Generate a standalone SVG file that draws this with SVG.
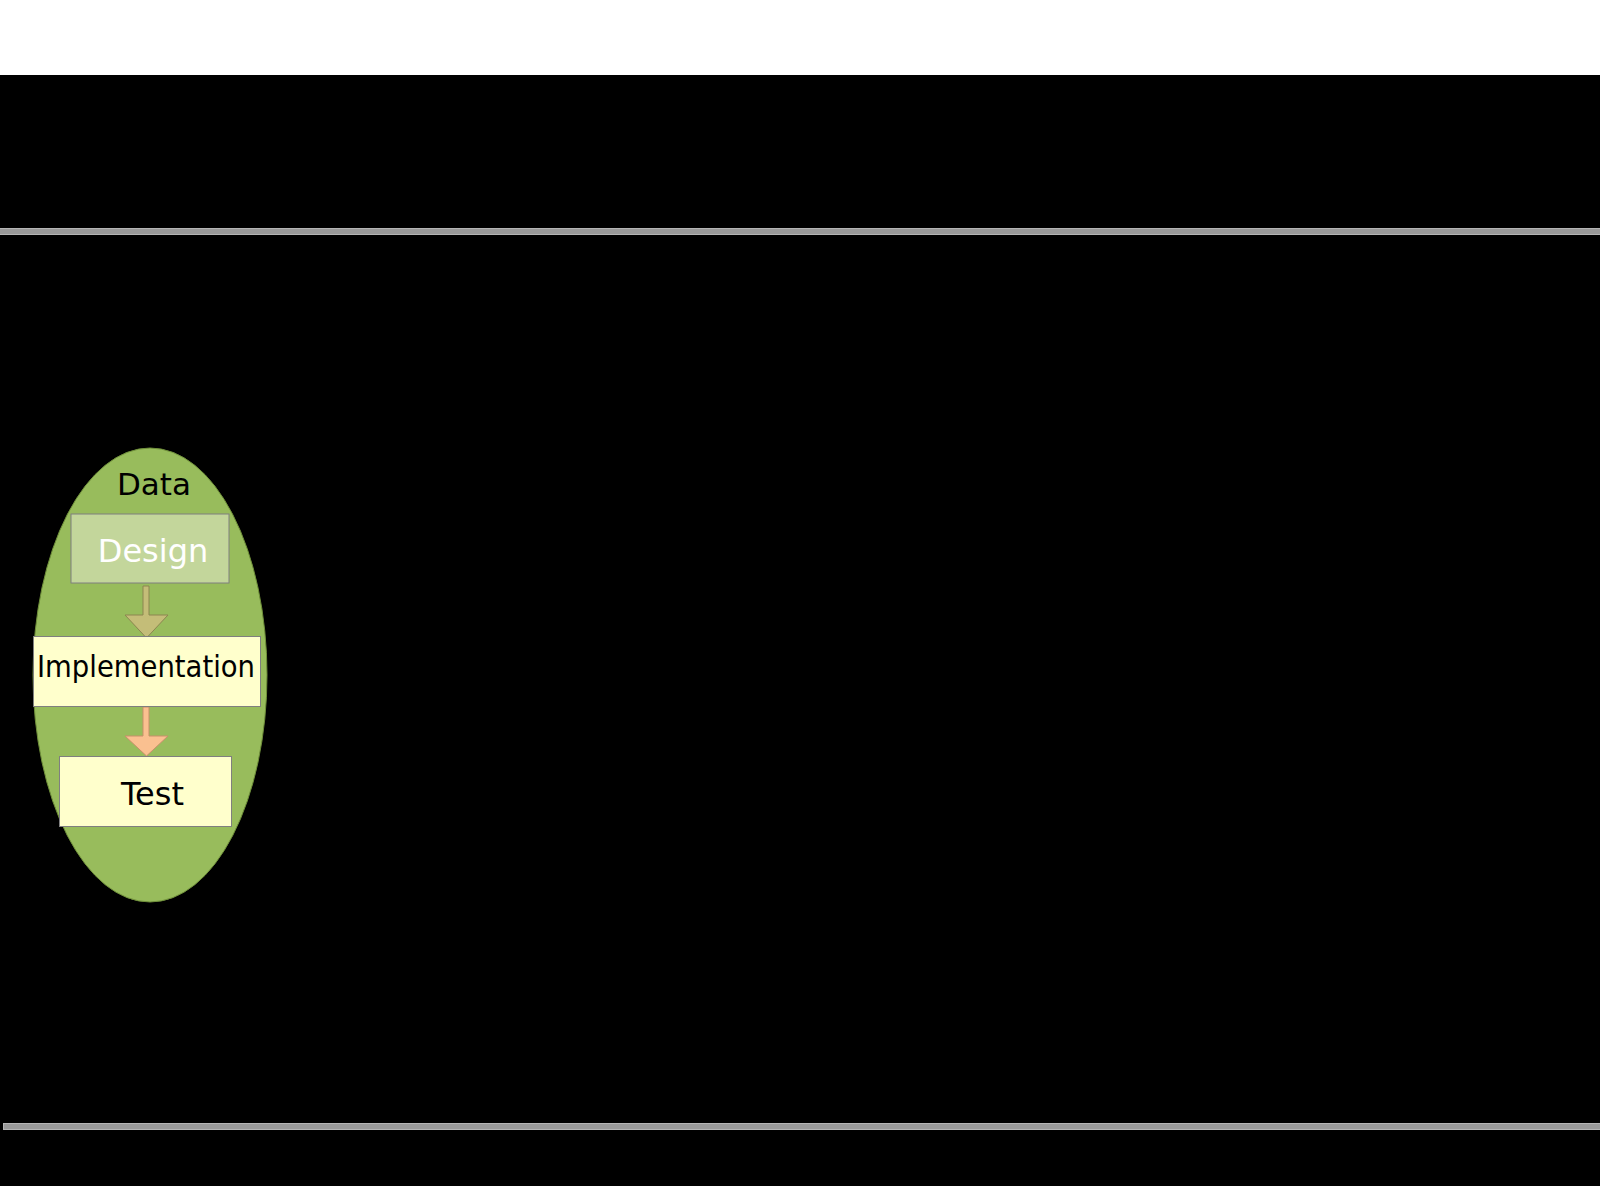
<svg xmlns="http://www.w3.org/2000/svg" width="1600" height="1201" viewBox="0 0 1600 1201">
<style>
.lbl{font-family:"DejaVu Sans",sans-serif;text-anchor:middle}
.box{stroke:#7f7f7f;stroke-width:1}
.rule{fill:#999999;stroke:#b5b5b5;stroke-width:1}
</style>
<rect x="0" y="0" width="1600" height="1201" fill="#ffffff"/>
<rect x="0" y="75" width="1600" height="1111" fill="#000000"/>
<rect class="rule" x="-1" y="228.5" width="1602" height="6"/>
<rect class="rule" x="3.5" y="1123.5" width="1598" height="6"/>
<g id="data-ellipse">
<ellipse cx="150" cy="675" rx="117" ry="227" fill="#98bc5c" stroke="#6f8f3a" stroke-width="1"/>
<text class="lbl" x="154" y="495" font-size="31" fill="#000000">Data</text>
</g>
<g id="connectors">
<path d="M143,586 H149 V615 H168 L146.5,638 L125,615 H143 Z" fill="#c4bd78" stroke="#8c8650" stroke-width="1"/>
<path d="M143,707 H149 V736 H168 L146.5,756 L125,736 H143 Z" fill="#fac090" stroke="#c8906a" stroke-width="1"/>
</g>
<g id="design">
<rect class="box" x="71" y="514" width="158" height="69" fill="#c3d69b"/>
<text class="lbl" x="153" y="562" font-size="32" fill="#ffffff">Design</text>
</g>
<g id="implementation">
<rect class="box" x="33.5" y="636.5" width="227" height="70" fill="#ffffcc"/>
<text class="lbl" x="146" y="677" font-size="31" fill="#000000" textLength="218" lengthAdjust="spacingAndGlyphs">Implementation</text>
</g>
<g id="test">
<rect class="box" x="59.5" y="756.5" width="172" height="70" fill="#ffffcc"/>
<text class="lbl" x="152.5" y="805" font-size="32" fill="#000000">Test</text>
</g>
</svg>
